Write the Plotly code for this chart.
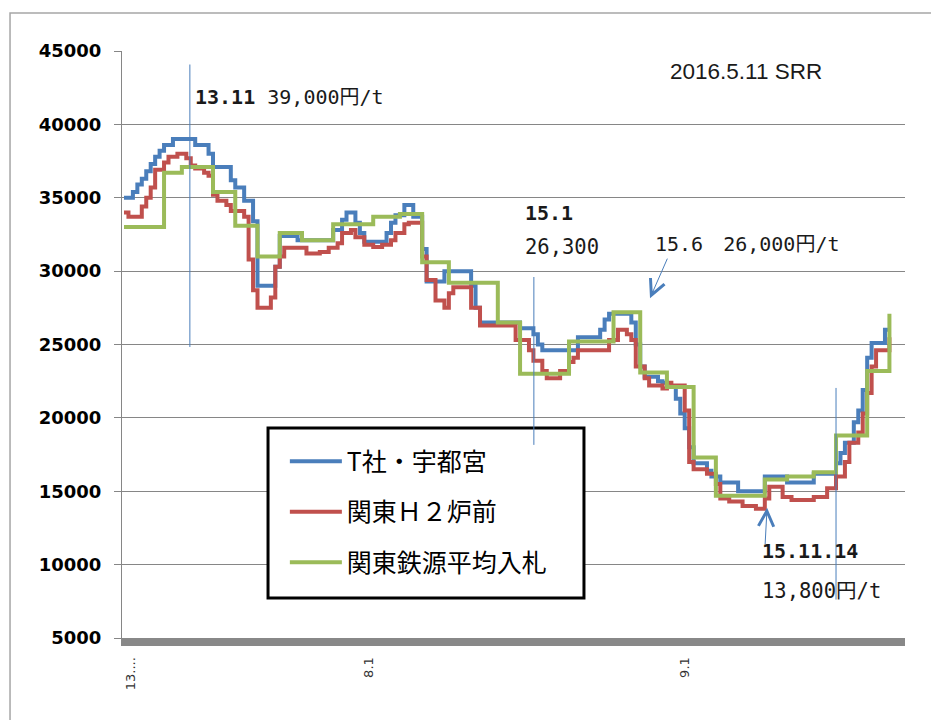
import plotly.graph_objects as go

# Weekly scrap price series (円/t), stored as change points: week index -> price
blue_weeks = [0, 2, 3, 4, 5, 6, 7, 8, 9, 11, 16, 19, 20, 24, 25, 27, 29, 30, 34, 35,
              39, 47, 49, 50, 52, 53, 54, 59, 60, 61, 63, 65, 67, 68, 72, 78, 79, 80,
              89, 92, 93, 94, 102, 107, 108, 109, 114, 115, 116, 117, 120, 121, 122,
              124, 125, 126, 127, 128, 131, 132, 134, 138, 144, 149, 155, 160, 161,
              162, 164, 165, 166, 167, 168, 171, 172]
blue_values = [35000, 35400, 35900, 36300, 36800, 37300, 37800, 38200, 38600, 39000,
               38600, 38000, 37100, 36200, 35700, 34800, 33400, 29000, 30300, 32400,
               32100, 32800, 33500, 34000, 33300, 32600, 32000, 32600, 33300, 33800,
               34500, 33700, 31500, 29300, 30000, 29000, 27500, 26500, 26100, 25700,
               25000, 24600, 25500, 26000, 26700, 27100, 26500, 25000, 23500, 22800,
               22500, 22400, 22100, 21300, 20300, 19300, 18000, 16900, 16400, 16000,
               15600, 15000, 16000, 15600, 16200, 16900, 17600, 18300, 19700, 20500,
               21900, 24100, 25100, 26000, 26000]

red_weeks = [0, 1, 4, 5, 6, 7, 9, 10, 12, 14, 15, 16, 18, 19, 20, 21, 23, 24, 27, 28,
             29, 30, 33, 34, 35, 36, 41, 44, 46, 48, 49, 51, 52, 54, 56, 58, 60, 61,
             63, 64, 67, 68, 70, 72, 73, 74, 78, 80, 88, 91, 92, 94, 95, 98, 100, 101,
             102, 109, 111, 113, 114, 115, 117, 118, 121, 122, 123, 126, 127, 128,
             131, 133, 134, 136, 139, 142, 144, 145, 148, 150, 155, 158, 160, 162,
             163, 165, 166, 167, 168, 169, 172]
red_values = [34000, 33700, 34400, 35000, 35700, 36900, 37400, 37800, 38000, 37700,
              37200, 37000, 36700, 36500, 35200, 34800, 34500, 34100, 33700, 30800,
              28700, 27500, 28200, 30300, 31000, 31600, 31200, 31300, 31600, 31900,
              32600, 32800, 32300, 31800, 31650, 31800, 32100, 32600, 33200, 33300,
              31000, 29400, 28000, 27500, 28500, 28900, 27500, 26300, 25300, 24600,
              23900, 23200, 22700, 23200, 23800, 24100, 24600, 25300, 26000, 25700,
              25300, 23500, 22700, 22200, 22000, 22400, 22200, 20500, 17000, 16500,
              16200, 15500, 14500, 14300, 14000, 13800, 14500, 15300, 14600, 14400,
              14600, 15200, 16000, 17000, 18300, 19000, 20300, 21700, 23500, 24600,
              25500]

green_weeks = [0, 9, 13, 20, 25, 30, 35, 40, 47, 56, 62, 67, 73, 84, 89, 100, 110,
               116, 122, 128, 133, 144, 149, 155, 160, 167, 172]
green_values = [33000, 36700, 37100, 35400, 33100, 31000, 32600, 32100, 33200, 33700,
                33900, 30600, 29200, 26500, 23000, 25200, 27200, 23100, 22100, 17300,
                14700, 15800, 16000, 16300, 18800, 23200, 27100]

series_names = ["T社・宇都宮", "関東Ｈ２炉前", "関東鉄源平均入札"]
series_colors = ["#4a7ebb", "#c0504d", "#9bbb59"]

tick_weeks = [1.5, 55, 126]
tick_labels = ["13....", "8.1", "9.1"]

note_color = "#4a7ebb"
jp_font = "Noto Sans CJK JP"
note_font = "DejaVu Sans Mono, Noto Sans CJK JP"

fig = go.Figure()
for name, color, xs, ys in zip(series_names, series_colors,
                               [blue_weeks, red_weeks, green_weeks],
                               [blue_values, red_values, green_values]):
    fig.add_trace(go.Scatter(
        x=xs, y=ys, mode="lines", name=name, legendgroup=name,
        line=dict(color=color, width=4, shape="hv"),
    ))

# chart frame
fig.add_shape(type="rect", xref="paper", yref="paper",
              x0=-0.143, x1=1.06, y0=-0.2, y1=1.0647,
              line=dict(color="#a6a6a6", width=1.5), layer="below")

# legend box
fig.add_shape(type="rect", xref="paper", yref="paper",
              x0=0.1865, x1=0.590, y0=0.0681, y1=0.3578,
              line=dict(color="black", width=3), fillcolor="white", layer="above")

# marker lines
for x0, y0, y1 in [(14.8, 44080, 24830), (92.1, 29600, 18160), (160.0, 22040, 7620)]:
    fig.add_shape(type="line", xref="x", yref="y", x0=x0, x1=x0, y0=y0, y1=y1,
                  line=dict(color=note_color, width=1))

notes = [
    (122.2, 43600, "2016.5.11 SRR", "Liberation Sans", 22.5),
    (15.5, 41840, "<b>13.11</b> 39,000円/t", note_font, 20),
    (89.7, 33950, "<b>15.1</b>", note_font, 20),
    (89.7, 31630, "26,300", note_font, 20.5),
    (118.9, 31840, "15.6　26,000円/t", note_font, 20),
    (142.9, 10950, "<b>15.11.14</b>", note_font, 20),
    (142.9, 8230, "13,800円/t", note_font, 20.5),
]
for x, y, text, family, size in notes:
    fig.add_annotation(x=x, y=y, xref="x", yref="y", text=text, showarrow=False,
                       xanchor="left", yanchor="middle",
                       font=dict(family=family, size=size, color="#1a1a1a"))

# arrows pointing at the marked prices
for x, y, ax, ay in [(118.2, 28160, 18, -41), (144.5, 13880, -2, 38)]:
    fig.add_annotation(x=x, y=y, xref="x", yref="y", ax=ax, ay=ay, text="",
                       showarrow=True, arrowhead=5, arrowsize=3, arrowwidth=1,
                       arrowcolor=note_color)

fig.update_layout(
    width=931, height=720,
    margin=dict(l=122, r=26, t=51, b=82),
    paper_bgcolor="white", plot_bgcolor="white",
    showlegend=True,
    legend=dict(x=0.208, y=0.34, xanchor="left", yanchor="top", itemwidth=52,
                bgcolor="rgba(0,0,0,0)", borderwidth=0, tracegroupgap=15,
                font=dict(family=jp_font, size=25, color="black")),
)
fig.update_yaxes(range=[5000, 45000], dtick=5000, tickformat="d", showgrid=True,
                 gridcolor="#868686", gridwidth=1.3, zeroline=False,
                 showline=True, linecolor="#868686", linewidth=1,
                 ticks="outside", ticklen=7, tickcolor="#868686",
                 ticklabelstandoff=9,
                 tickfont=dict(family="DejaVu Sans", size=18, color="black",
                               weight="bold"))
fig.update_xaxes(range=[-0.45, 175.5], tickmode="array", tickvals=tick_weeks,
                 ticktext=tick_labels, tickangle=-90, showgrid=False, zeroline=False,
                 showline=True, linecolor="#888888", linewidth=8, ticks="",
                 ticklabelstandoff=6,
                 tickfont=dict(family="DejaVu Sans", size=13, color="#333333"))

fig.write_html("out.html")
